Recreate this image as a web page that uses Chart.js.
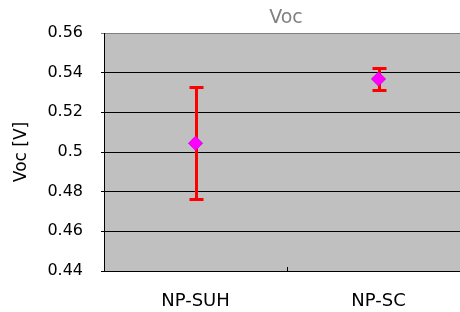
<!DOCTYPE html>
<html>
<head>
<meta charset="utf-8">
<script src="https://cdn.jsdelivr.net/npm/chart.js@4"></script>
<style>
  html, body { margin: 0; padding: 0; background: #fff; overflow: hidden; }
  canvas { display: block; }
</style>
</head>
<body>
<canvas id="chart" width="480" height="312"></canvas>
<script>
// data
const categories = ['NP-SUH', 'NP-SC'];
const vocMean = [0.5044, 0.5368];
const vocLow = [0.4762, 0.5313];
const vocHigh = [0.533, 0.5422];
const yTicks = [0.44, 0.46, 0.48, 0.5, 0.52, 0.54, 0.56];
const chartTitle = 'Voc';

const FONT = 'DejaVu Sans';

const errorBars = {
  id: 'errorBars',
  beforeDatasetsDraw(chart) {
    const { ctx, scales: { x, y } } = chart;
    ctx.save();
    ctx.strokeStyle = '#ff0000';
    ctx.lineWidth = 3;
    categories.forEach((c, i) => {
      const px = Math.round(x.getPixelForValue(i)) + 0.5;
      const top = Math.round(y.getPixelForValue(vocHigh[i])) + 0.5;
      const bot = Math.round(y.getPixelForValue(vocLow[i])) + 0.5;
      ctx.beginPath();
      ctx.moveTo(px, top);
      ctx.lineTo(px, bot);
      ctx.moveTo(px - 7, top);
      ctx.lineTo(px + 7, top);
      ctx.moveTo(px - 7, bot);
      ctx.lineTo(px + 7, bot);
      ctx.stroke();
    });
    // small inside tick between the categories, like excel
    const mid = Math.round((x.getPixelForValue(0) + x.getPixelForValue(1)) / 2) + 0.5;
    const b = chart.chartArea.bottom;
    ctx.strokeStyle = '#000';
    ctx.lineWidth = 1;
    ctx.beginPath();
    ctx.moveTo(mid, b);
    ctx.lineTo(mid, b - 4);
    ctx.stroke();
    ctx.restore();
  }
};

// plot background + title centred over the plot area (not the canvas)
const plotBg = {
  id: 'plotBg',
  beforeDraw(chart) {
    const { ctx, chartArea: a } = chart;
    ctx.save();
    ctx.fillStyle = '#c0c0c0';
    ctx.fillRect(a.left, a.top, a.right - a.left, a.bottom - a.top);
    ctx.fillStyle = '#808080';
    ctx.font = '19px "' + FONT + '"';
    ctx.textAlign = 'center';
    ctx.textBaseline = 'alphabetic';
    ctx.fillText(chartTitle, (a.left + a.right) / 2 - 1, 23);
    ctx.restore();
  }
};

new Chart(document.getElementById('chart'), {
  type: 'line',
  data: {
    labels: categories,
    datasets: [{
      data: vocMean,
      showLine: false,
      pointStyle: 'rectRot',
      pointRadius: 7,
      pointBackgroundColor: '#ff00ff',
      pointBorderColor: '#dd00dd',
      pointBorderWidth: 1
    }]
  },
  options: {
    responsive: false,
    animation: false,
    // canvas is a bit wider than the window: the plot runs off the right edge like the original
    layout: { padding: { left: 0, right: 10, top: 33, bottom: 0 } },
    scales: {
      x: {
        offset: true,
        grid: { display: false, drawTicks: false },
        border: { display: true, color: '#000', width: 1 },
        ticks: { color: '#000', padding: 20, font: { family: FONT, size: 18 } },
        afterFit(s) { s.height = 41; }
      },
      y: {
        min: 0.44,
        max: 0.56,
        afterBuildTicks(s) { s.ticks = yTicks.map(v => ({ value: v })); },
        grid: {
          color: c => (c.tick && Math.abs(c.tick.value - 0.56) < 1e-6) ? '#808080' : '#000',
          lineWidth: 1,
          tickLength: 3
        },
        border: { display: true, color: '#000', width: 1 },
        ticks: {
          color: '#000',
          padding: 18,
          font: { family: FONT, size: 16 },
          callback: v => String(+v.toFixed(2))
        },
        title: {
          display: true,
          text: 'Voc [V]',
          color: '#000',
          font: { family: FONT, size: 17 },
          padding: { top: 11, bottom: 0 }
        },
        afterFit(s) { s.width = 104; }
      }
    },
    plugins: {
      legend: { display: false },
      tooltip: { enabled: false },
      title: { display: false }
    }
  },
  plugins: [plotBg, errorBars]
});
</script>
</body>
</html>
